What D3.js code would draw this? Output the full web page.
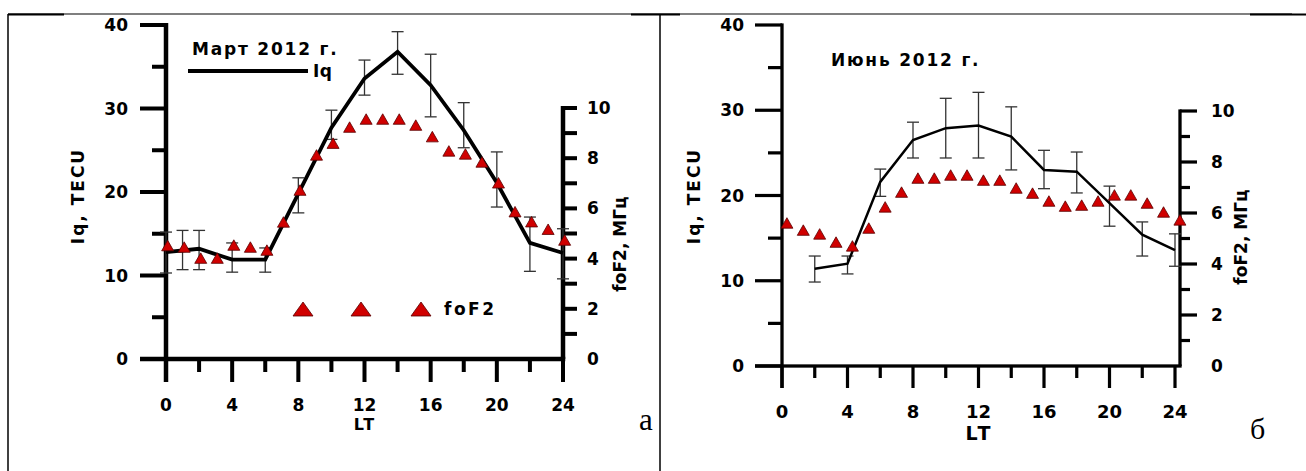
<!DOCTYPE html>
<html><head><meta charset="utf-8">
<script src="https://cdn.jsdelivr.net/npm/d3@7/dist/d3.min.js"></script>
<style>body{margin:0;background:#fff}svg{display:block}</style>
</head><body>
<svg id="chart" width="1306" height="471"></svg>
<script>
// Shared tick values
const hourTicks = [0, 4, 8, 12, 16, 20, 24];
const hourMinorTicks = [2, 6, 10, 14, 18, 22];
const iqTicks = [0, 10, 20, 30, 40];
const iqMinorTicks = [5, 15, 25, 35];
const foF2Ticks = [0, 2, 4, 6, 8, 10];
const foF2MinorTicks = [1, 3, 5, 7, 9];

// March 2012: Iq (TECU) with spread, foF2 (MHz)
const marchLineHours = [0, 2, 4, 6, 8, 10, 12, 14, 16, 18, 20, 22, 24];
const marchIq = [12.8, 13.2, 11.9, 11.9, 19.8, 27.7, 33.6, 36.8, 32.8, 27.4, 21.1, 13.9, 12.7];
const marchErrHours = [0, 1, 2, 4, 6, 8, 10, 12, 14, 16, 18, 20, 22, 24];
const marchErrLow = [10.3, 10.7, 10.7, 10.4, 10.4, 17.5, 26.3, 31.6, 34.1, 29.0, 25.3, 18.2, 10.5, 9.6];
const marchErrHigh = [15.2, 15.4, 15.4, 13.9, 13.3, 21.7, 29.8, 35.8, 39.2, 36.5, 30.7, 24.8, 17.0, 15.6];
const marchFoF2Hours = [0.1, 1.1, 2.1, 3.1, 4.1, 5.1, 6.1, 7.1, 8.1, 9.1, 10.1, 11.1, 12.1, 13.1, 14.1, 15.1, 16.1, 17.1, 18.1, 19.1, 20.1, 21.1, 22.1, 23.1, 24.1];
const marchFoF2 = [4.52, 4.46, 4.02, 4.02, 4.54, 4.46, 4.34, 5.46, 6.73, 8.13, 8.6, 9.24, 9.56, 9.56, 9.56, 9.32, 8.86, 8.29, 8.17, 7.85, 7.02, 5.87, 5.47, 5.17, 4.74];

// June 2012
const juneLineHours = [2, 4, 6, 8, 10, 12, 14, 16, 18, 20, 22, 24];
const juneIq = [11.4, 12.0, 21.6, 26.5, 27.9, 28.2, 26.9, 23.0, 22.8, 19.1, 15.4, 13.6];
const juneErrHours = [2, 4, 6, 8, 10, 12, 14, 16, 18, 20, 22, 24];
const juneErrLow = [9.85, 10.8, 19.9, 24.4, 24.4, 24.4, 23.0, 20.8, 20.3, 16.4, 12.9, 11.7];
const juneErrHigh = [12.9, 12.9, 23.1, 28.6, 31.4, 32.1, 30.4, 25.3, 25.1, 21.1, 16.9, 15.5];
const juneFoF2Hours = [0.3, 1.3, 2.3, 3.3, 4.3, 5.3, 6.3, 7.3, 8.3, 9.3, 10.3, 11.3, 12.3, 13.3, 14.3, 15.3, 16.3, 17.3, 18.3, 19.3, 20.3, 21.3, 22.3, 23.3, 24.3];
const juneFoF2 = [5.61, 5.33, 5.18, 4.86, 4.71, 5.41, 6.24, 6.82, 7.37, 7.37, 7.49, 7.49, 7.29, 7.29, 6.98, 6.78, 6.47, 6.27, 6.31, 6.47, 6.71, 6.71, 6.39, 6.04, 5.73];

const svg = d3.select("#chart");
const FONT = "'DejaVu Sans', Verdana, sans-serif";
const SERIF = "'Liberation Serif', 'Times New Roman', serif";
const RED = "#d00000";

function label(g, str, x, y, o) {
  o = o || {};
  const sp = o.spacing || 0;
  const anchor = o.anchor || "start";
  let dx = 0;
  if (anchor === "end") dx = sp; else if (anchor === "middle") dx = sp / 2;
  const t = g.append("text")
    .attr("font-family", o.family || FONT)
    .attr("font-weight", o.weight || "bold")
    .attr("font-size", o.size || 17)
    .attr("letter-spacing", sp)
    .attr("text-anchor", anchor)
    .attr("fill", "#000")
    .text(str);
  if (o.rotate) {
    t.attr("transform", `translate(${x},${y}) rotate(-90)`).attr("x", dx);
  } else {
    t.attr("x", x + dx).attr("y", y);
  }
  return t;
}

function triangle(w, h) {
  return `M0,${-h / 2}L${w / 2},${h / 2}L${-w / 2},${h / 2}Z`;
}

// solid bar between two points (used for axis lines and ticks)
function hbar(g, x1, x2, y, w) {
  g.append("rect").attr("x", Math.min(x1, x2)).attr("y", y - w / 2)
    .attr("width", Math.abs(x2 - x1)).attr("height", w).attr("fill", "#000");
}
function vbar(g, x, y1, y2, w) {
  g.append("rect").attr("x", x - w / 2).attr("y", Math.min(y1, y2))
    .attr("width", w).attr("height", Math.abs(y2 - y1)).attr("fill", "#000");
}

function drawPanel(p) {
  const g = svg.append("g");
  const x = d3.scaleLinear().domain([0, 24]).range([p.x0, p.x24]);
  const yL = d3.scaleLinear().domain([0, 40]).range([p.yBase, p.yTop]);
  const yR = d3.scaleLinear().domain([0, 10]).range([p.yBase, p.yRTop]);

  const axes = g.append("g");
  // axis lines
  vbar(axes, p.x0, yL(40) - p.tickW / 2, p.yBase + p.xMajorLen, p.axisW);
  hbar(axes, p.x0 - p.majorLen, p.rx + p.axisW / 2, p.yBase, p.axisW);
  vbar(axes, p.rx, yR(10) - p.tickW / 2, p.yBase, p.axisW);
  // ticks
  iqTicks.forEach(v => hbar(axes, p.x0 - p.majorLen, p.x0, yL(v), p.tickW));
  iqMinorTicks.forEach(v => hbar(axes, p.x0 - p.minorLen, p.x0, yL(v), p.tickW));
  hourTicks.forEach(v => vbar(axes, x(v), p.yBase, p.yBase + p.xMajorLen, p.tickW));
  hourMinorTicks.forEach(v => vbar(axes, x(v), p.yBase, p.yBase + p.xMinorLen, p.tickW));
  foF2Ticks.filter(v => v > 0).forEach(v => hbar(axes, p.rx, p.rx + p.rMajorLen, yR(v), p.tickW));
  foF2MinorTicks.forEach(v => hbar(axes, p.rx, p.rx + p.rMinorLen, yR(v), p.tickW));

  // tick labels and titles
  iqTicks.forEach(v => label(g, v, p.yLabelRight, yL(v) + 6, {anchor: "end", size: p.ySize}));
  hourTicks.forEach(v => label(g, v, x(v), p.xLabelY, {anchor: "middle", size: p.xSize}));
  foF2Ticks.forEach(v => label(g, v, p.rLabelLeft, yR(v) + 6, {anchor: "start", size: p.ySize}));
  label(g, "LT", p.ltX, p.ltY, {anchor: "middle", spacing: p.ltSpacing, size: p.ltSize});
  label(g, "Iq, TECU", p.iqLabelX, p.iqLabelY, {anchor: "middle", spacing: 2, rotate: true});
  label(g, "foF2, МГц", p.fLabelX, p.fLabelY, {anchor: "middle", spacing: 0, rotate: true});
  label(g, p.title, p.titleX, p.titleY, {spacing: 1.8});

  // error bars
  const eb = g.append("g").attr("stroke", "#333").attr("stroke-width", 1.3).attr("fill", "none");
  p.errHours.forEach((h, i) => {
    const cx = x(h), y1 = yL(p.errLow[i]), y2 = yL(p.errHigh[i]);
    eb.append("line").attr("x1", cx).attr("x2", cx).attr("y1", y1).attr("y2", y2);
    eb.append("line").attr("x1", cx - 6).attr("x2", cx + 6).attr("y1", y1).attr("y2", y1);
    eb.append("line").attr("x1", cx - 6).attr("x2", cx + 6).attr("y1", y2).attr("y2", y2);
  });

  // Iq line
  const line = d3.line().x(d => x(d[0])).y(d => yL(d[1]));
  g.append("path").datum(p.lineHours.map((h, i) => [h, p.iq[i]]))
    .attr("d", line).attr("fill", "none").attr("stroke", "#000").attr("stroke-width", p.lineW)
    .attr("stroke-linejoin", "miter");

  // foF2 markers
  g.append("g").selectAll("path").data(p.fHours.map((h, i) => [h, p.foF2[i]])).join("path")
    .attr("transform", d => `translate(${x(d[0])},${yR(d[1])})`)
    .attr("d", triangle(p.triW, p.triH)).attr("fill", RED).attr("stroke", "#5a0000").attr("stroke-width", 0.8);

  return {g, x, yL, yR};
}

// table frame
const frame = svg.append("g").attr("stroke", "#000");
frame.append("line").attr("x1", 8).attr("x2", 1292).attr("y1", 14).attr("y2", 14).attr("stroke-width", 1.2);
frame.append("line").attr("x1", 8).attr("x2", 8).attr("y1", 14).attr("y2", 471).attr("stroke-width", 1.5);
frame.append("line").attr("x1", 660).attr("x2", 660).attr("y1", 14).attr("y2", 471).attr("stroke-width", 1.5);
[[8, 64], [631, 680], [1250, 1306]].forEach(s =>
  frame.append("line").attr("x1", s[0]).attr("x2", s[1]).attr("y1", 14.5).attr("y2", 14.5).attr("stroke-width", 2));

const march = drawPanel({
  x0: 166, x24: 563, rx: 563, yBase: 359, yTop: 25, yRTop: 108,
  majorLen: 26, minorLen: 14, xMajorLen: 23, xMinorLen: 13, rMajorLen: 14, rMinorLen: 14,
  axisW: 4.5, tickW: 4, lineW: 3.8, ySize: 17, xSize: 17, xLabelY: 411,
  yLabelRight: 128, rLabelLeft: 587,
  ltX: 364, ltY: 430, ltSize: 16, ltSpacing: 2,
  iqLabelX: 84, iqLabelY: 197, fLabelX: 626, fLabelY: 244,
  title: "Март 2012 г.", titleX: 192, titleY: 55,
  lineHours: marchLineHours, iq: marchIq, errHours: marchErrHours, errLow: marchErrLow, errHigh: marchErrHigh,
  fHours: marchFoF2Hours, foF2: marchFoF2, triW: 12, triH: 10.5
});

// March legend
const lg = march.g.append("g");
lg.append("line").attr("x1", 188).attr("x2", 308).attr("y1", 71).attr("y2", 71).attr("stroke", "#000").attr("stroke-width", 3.8);
label(lg, "Iq", 313, 77, {spacing: 0.5});
[303, 361, 421].forEach(cx => lg.append("path").attr("transform", `translate(${cx},309)`)
  .attr("d", triangle(20, 14)).attr("fill", RED).attr("stroke", "#5a0000").attr("stroke-width", 0.8));
label(lg, "foF2", 444, 315, {spacing: 2.5});
label(lg, "а", 639, 430, {family: SERIF, weight: "normal", size: 31});

const june = drawPanel({
  x0: 782, x24: 1175, rx: 1180, yBase: 366, yTop: 25, yRTop: 111,
  majorLen: 27, minorLen: 14, xMajorLen: 22, xMinorLen: 12, rMajorLen: 17, rMinorLen: 10,
  axisW: 3.3, tickW: 3.2, lineW: 2.5, ySize: 17, xSize: 18, xLabelY: 418,
  yLabelRight: 744, rLabelLeft: 1211,
  ltX: 978, ltY: 440, ltSize: 19, ltSpacing: 3,
  iqLabelX: 700, iqLabelY: 197, fLabelX: 1247, fLabelY: 237,
  title: "Июнь 2012 г.", titleX: 831, titleY: 66,
  lineHours: juneLineHours, iq: juneIq, errHours: juneErrHours, errLow: juneErrLow, errHigh: juneErrHigh,
  fHours: juneFoF2Hours, foF2: juneFoF2, triW: 12, triH: 10.5
});
label(june.g, "б", 1250, 439, {family: SERIF, weight: "normal", size: 30});
</script>
</body></html>
